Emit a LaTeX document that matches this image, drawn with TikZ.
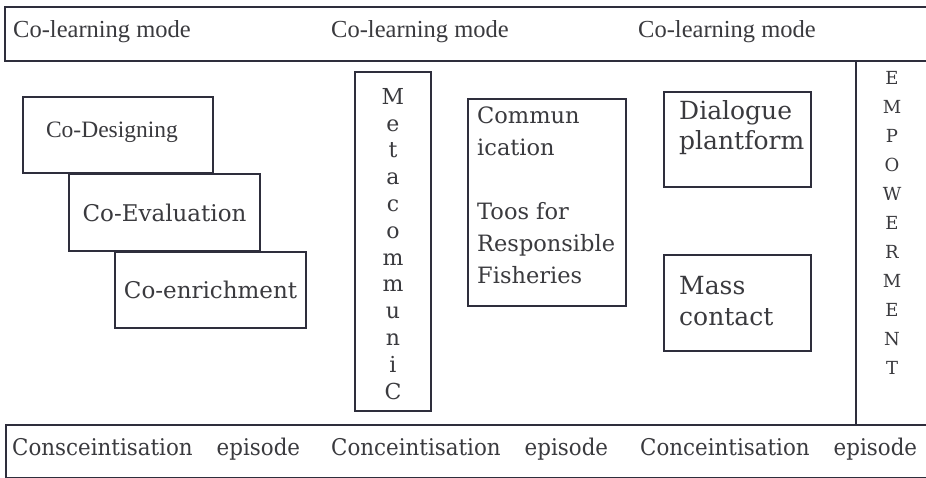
\documentclass[tikz,border=0pt]{standalone}
\usepackage{fontspec}
\setmainfont{Liberation Serif}
\newfontfamily\schfont{DejaVu Serif}
\newfontfamily\condfont[FakeStretch=0.93]{DejaVu Serif}
\usepackage{tikz}
\usetikzlibrary{positioning,calc}
\definecolor{ink}{HTML}{2E2E3C}
\definecolor{txt}{HTML}{3A3A3E}

\begin{document}
\begin{tikzpicture}[x=1pt,y=-1pt]
\tikzset{
	blk/.style = {draw = ink, line width = 1.8pt, inner sep = 0, text = txt},
	lbl/.style = {inner sep = 0, text = txt},
	stack/.style = {inner sep = 0, text = txt, align = center, anchor = north},
}
\useasboundingbox[fill = white](0,0) rectangle (926,478);
% bands
\node(learn)[blk, anchor = north west, minimum width = 930, minimum height = 54]at(4,6){};
\node(base)[blk, anchor = north west, minimum width = 930, minimum height = 53]at(5,424){};
\foreach \x/\n in {13/l1,331/l2,638/l3}
	\node(\n)[lbl, anchor = base west, font = \fontsize{24.5}{28}\selectfont]at(\x,38){Co-learning mode};
\node(c1)[lbl, anchor = base west, font = \fontsize{23}{26}\condfont]at(12,455){Consceintisation\hspace{24pt}episode};
\foreach \x/\n in {331/c2,640/c3}
	\node(\n)[lbl, anchor = base west, font = \fontsize{23}{26}\condfont]at(\x,455){Conceintisation\hspace{24pt}episode};
% left stair
\node(design)[blk, minimum width = 190, minimum height = 76]at(118,135){};
\node(designtxt)[lbl, font = \fontsize{23.5}{28}\selectfont]at(112,132){Co-Designing};
\node(evalu)[blk, minimum width = 191, minimum height = 77, font = \fontsize{23}{26}\schfont]at(164.5,212.5){Co-Evaluation};
\node(enrich)[blk, minimum width = 191, minimum height = 76, font = \fontsize{23}{26}\schfont]at(210.5,290){Co-enrichment};
% metacommunication
\node(meta)[blk, minimum width = 76, minimum height = 339]at(393,241.5){};
\node(metatxt)[stack, font = \fontsize{22}{26.8}\schfont]at(393,88){M\\e\\t\\a\\c\\o\\m\\m\\u\\n\\i\\C};
% middle boxes
\node(commu)[blk, minimum width = 158, minimum height = 207]at(547,202.5){};
\node(commutxt)[lbl, anchor = north west, align = left, font = \fontsize{22.5}{32}\schfont]at(477,107){Commun\\ication\\[32pt]Toos for\\Responsible\\Fisheries};
\node(dialog)[blk, minimum width = 147, minimum height = 95]at(737.5,139.5){};
\node(dialogtxt)[lbl, anchor = north west, align = left, font = \fontsize{25}{30}\schfont]at(679,100){Dialogue\\plantform};
\node(mass)[blk, minimum width = 147, minimum height = 96]at(737.5,303){};
\node(masstxt)[lbl, anchor = north west, align = left, font = \fontsize{25}{31}\schfont]at(679,276){Mass\\contact};
% empowerment
\node(power)[blk, anchor = north west, minimum width = 80, minimum height = 364]at(855,60){};
\node(powertxt)[stack, font = \fontsize{18}{29}\schfont]at(892,71){E\\M\\P\\O\\W\\E\\R\\M\\E\\N\\T};
\end{tikzpicture}
\end{document}
